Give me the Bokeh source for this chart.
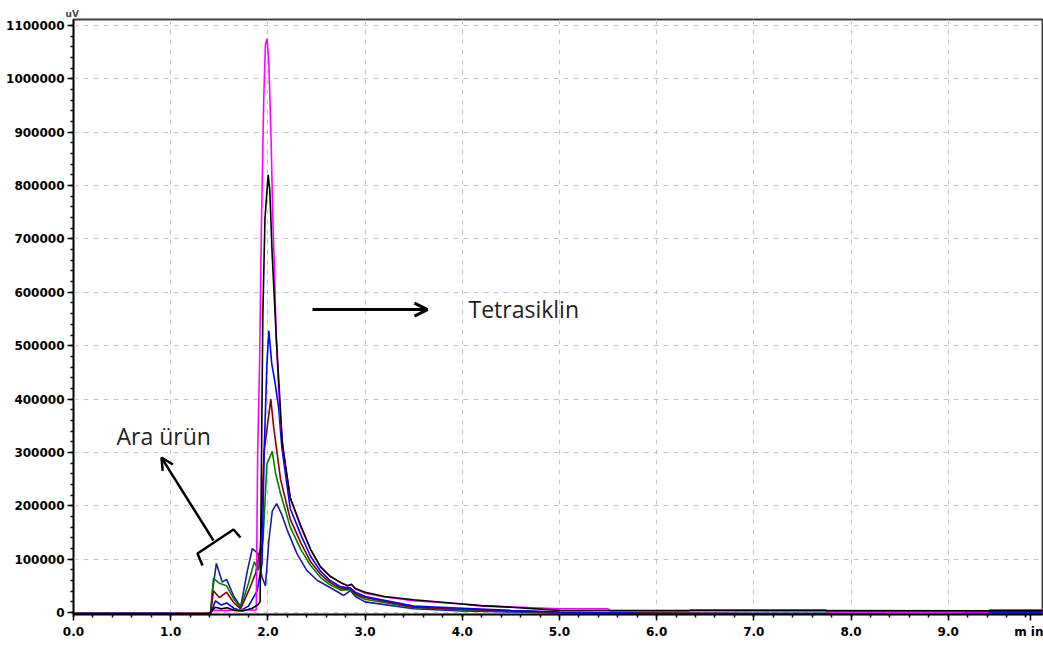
from bokeh.plotting import figure
from bokeh.models import Range1d, FixedTicker, Label, Arrow, OpenHead, Title
from bokeh.embed import file_html
from bokeh.resources import INLINE
import numpy as np

# ---- data (retention time in min, signal in uV) ----
t_navy = [0.0, 1.41, 1.43, 1.47, 1.53, 1.575, 1.65, 1.72, 1.79, 1.84, 1.9, 1.94, 1.975, 2.01, 2.045,
          2.09, 2.14, 2.2, 2.3, 2.4, 2.51, 2.64, 2.78, 2.85, 2.9, 3.0, 3.5, 4.0, 4.5, 5.0, 6.38, 6.4,
          6.52, 6.54, 9.41, 9.43, 9.97]
v_navy = [-2000, -2000, 40000, 92000, 57000, 62000, 30000, 11000, 79000, 120000, 110000, 66000, 50000,
          135000, 190000, 204000, 185000, 154000, 110000, 79000, 60000, 47000, 32000, 41000, 30000,
          20000, 7000, 3000, 1000, -1000, -2000, -8000, -8000, -2000, -2000, 1000, 1000]

t_green = [0.0, 1.41, 1.44, 1.5, 1.575, 1.65, 1.72, 1.8, 1.86, 1.9, 1.95, 1.99, 2.045, 2.08, 2.13,
           2.23, 2.34, 2.44, 2.54, 2.64, 2.75, 2.85, 2.9, 3.0, 3.5, 4.0, 4.5, 5.0, 6.53, 6.55, 7.0,
           7.02, 9.97]
v_green = [-2000, -2000, 64000, 55000, 50000, 25000, 9000, 55000, 95000, 79000, 135000, 278000, 302000,
           260000, 223000, 160000, 118000, 88000, 66000, 52000, 42000, 43000, 33000, 25000, 9000,
           5000, 2000, 0, -2000, -8000, -8000, -2000, -2000]

t_red = [0.0, 1.41, 1.44, 1.5, 1.575, 1.65, 1.72, 1.8, 1.873, 1.924, 1.96, 2.03, 2.06, 2.13, 2.23,
         2.34, 2.44, 2.54, 2.64, 2.75, 2.85, 2.9, 3.0, 3.5, 4.0, 4.5, 5.0, 6.98, 7.0, 9.25, 9.27, 9.97]
v_red = [-2000, -2000, 41000, 28000, 38000, 18000, 7000, 40000, 73000, 122000, 300000, 400000, 347000,
         250000, 175000, 130000, 95000, 72000, 56000, 45000, 44000, 35000, 28000, 10000, 6000, 3000,
         0, -2000, -8000, -8000, -2000, -2000]

t_blue = [0.0, 1.1, 1.12, 1.34, 1.36, 1.41, 1.44, 1.46, 1.52, 1.575, 1.65, 1.72, 1.8, 1.89, 1.94,
          1.962, 1.99, 2.01, 2.04, 2.07, 2.11, 2.145, 2.23, 2.34, 2.44, 2.54, 2.64, 2.75, 2.85, 2.9,
          3.0, 3.5, 4.0, 4.5, 5.0, 5.77, 5.8, 8.35, 8.37, 9.13, 9.15, 9.97]
v_blue = [-2000, -2000, -8000, -8000, -2000, -2000, 12000, 22000, 14000, 18000, 8000, 4000, 12000,
          41000, 92000, 303000, 466000, 528000, 466000, 435000, 385000, 307000, 195000, 145000,
          105000, 78000, 60000, 48000, 46000, 38000, 30000, 12000, 8000, 4000, 1000, -1000, -2000,
          -2000, -8000, -8000, -1000, -1000]

t_black = [0.0, 1.40, 1.43, 1.46, 1.52, 1.58, 1.66, 1.74, 1.84, 1.9, 1.92, 1.935, 1.948, 1.97, 2.003,
           2.02, 2.044, 2.086, 2.13, 2.147, 2.23, 2.34, 2.44, 2.54, 2.64, 2.75, 2.82, 2.86, 2.9, 3.0,
           3.2, 3.5, 4.0, 4.2, 4.5, 5.0, 9.97]
v_black = [-2000, -2000, 5000, 10000, 7000, 9000, 4000, 3000, 8000, 15000, 20000, 300000, 556000,
           738000, 820000, 790000, 672000, 516000, 378000, 320000, 215000, 162000, 118000, 86000,
           68000, 56000, 50000, 53000, 45000, 38000, 30000, 24000, 16000, 13000, 10000, 4000, 3000]

t_mag = [0.0, 1.40, 1.44, 1.6, 1.88, 1.895, 1.914, 1.934, 1.957, 1.975, 1.992, 2.01, 2.034, 2.05,
         2.07, 2.085, 2.105, 2.13, 2.16, 2.23, 2.34, 2.44, 2.54, 2.64, 2.75, 2.82, 2.86, 2.9, 3.0,
         3.2, 3.5, 4.0, 4.2, 4.6, 5.0, 5.5, 5.52, 6.33, 6.35, 7.74, 7.76, 9.41, 9.43, 9.97]
v_mag = [-2000, -2000, 4000, 4000, 5000, 300000, 460000, 730000, 960000, 1065000, 1075000, 1030000,
         880000, 740000, 630000, 520000, 440000, 360000, 300000, 215000, 160000, 118000, 86000,
         68000, 56000, 50000, 52000, 44000, 36000, 29000, 22000, 16000, 12000, 10000, 7000, 7000,
         3000, 3000, 5000, 5000, 1000, 1000, 5000, 5000]

series = [
    (t_navy, v_navy, "#1c1ca0"),
    (t_green, v_green, "#008000"),
    (t_red, v_red, "#8b0000"),
    (t_blue, v_blue, "#0000ff"),
    (t_mag, v_mag, "#ff00ff"),
    (t_black, v_black, "#000000"),
]

x_ticks = [0, 1, 2, 3, 4, 5, 6, 7, 8, 9, 9.85]
x_tick_labels = ["0.0", "1.0", "2.0", "3.0", "4.0", "5.0", "6.0", "7.0", "8.0", "9.0", "m in"]
y_ticks = [0, 100000, 200000, 300000, 400000, 500000, 600000, 700000, 800000, 900000, 1000000, 1100000]
y_tick_labels = ["0", "100000", "200000", "300000", "400000", "500000", "600000", "700000",
                 "800000", "900000", "1000000", "1100000"]
y_unit = "uV"

p = figure(width=1043, height=645, x_range=Range1d(0, 9.97), y_range=Range1d(-3700, 1111200),
           output_backend="svg", toolbar_location=None,
           min_border_left=73, min_border_right=1, min_border_top=19, min_border_bottom=31)
p.background_fill_color = "white"
p.border_fill_color = "white"
p.outline_line_color = "#404040"
p.outline_line_width = 2

p.add_layout(Title(text=y_unit, text_font="DejaVu Sans", text_font_size="9px",
                   text_font_style="bold", align="left", offset=-8, standoff=1), "above")

for t, v, c in series:
    p.line(t, v, line_color=c, line_width=1.6)

minor_x = [round(x, 2) for x in np.arange(0, 10.0, 0.2)]
minor_y = list(range(0, 1100001, 20000))

p.xaxis.ticker = FixedTicker(ticks=x_ticks, minor_ticks=minor_x)
p.yaxis.ticker = FixedTicker(ticks=y_ticks, minor_ticks=minor_y)
p.xaxis.major_label_overrides = {k: s for k, s in zip(x_ticks, x_tick_labels)}
p.yaxis.major_label_overrides = {k: s for k, s in zip(y_ticks, y_tick_labels)}

for ax in (p.xaxis, p.yaxis):
    ax.axis_line_color = "black"
    ax.axis_line_width = 1.5
    ax.major_tick_line_color = "black"
    ax.minor_tick_line_color = "black"
    ax.major_tick_line_width = 1.5
    ax.minor_tick_line_width = 1.5
    ax.major_tick_out = 6
    ax.major_tick_in = 0
    ax.minor_tick_out = 3
    ax.minor_tick_in = 0
    ax.major_label_text_font = "DejaVu Sans"
    ax.major_label_text_font_size = "12px"
    ax.major_label_text_font_style = "bold"
    ax.major_label_text_color = "black"
p.xaxis.major_label_standoff = 4
p.yaxis.major_label_standoff = 3

for g in (p.xgrid, p.ygrid):
    g.grid_line_color = "#c8c8c8"
    g.grid_line_dash = "5 5"
    g.grid_line_width = 1
p.xgrid.ticker = FixedTicker(ticks=x_ticks[:-1])
p.ygrid.ticker = FixedTicker(ticks=y_ticks)

# annotations
p.add_layout(Arrow(end=OpenHead(size=13, line_width=3, line_color="black"),
                   x_start=2.459, y_start=567700, x_end=3.642, y_end=567700,
                   line_width=3, line_color="black"))
p.add_layout(Label(x=4.064, y=568000, text="Tetrasiklin", text_font="Open Sans",
                   text_font_size="23px", text_color="#222222", text_baseline="alphabetic"))
p.add_layout(Label(x=0.442, y=330000, text="Ara ürün", text_font="Open Sans",
                   text_font_size="23px", text_color="#222222", text_baseline="alphabetic"))
p.add_layout(Arrow(end=OpenHead(size=12, line_width=2.5, line_color="black"),
                   x_start=1.440, y_start=134900, x_end=0.905, y_end=290400,
                   line_width=2.5, line_color="black"))
p.line([1.327, 1.276, 1.646, 1.718], [88100, 110500, 155500, 140500],
       line_color="black", line_width=2.5)

open("out.html", "w").write(file_html(p, INLINE))
